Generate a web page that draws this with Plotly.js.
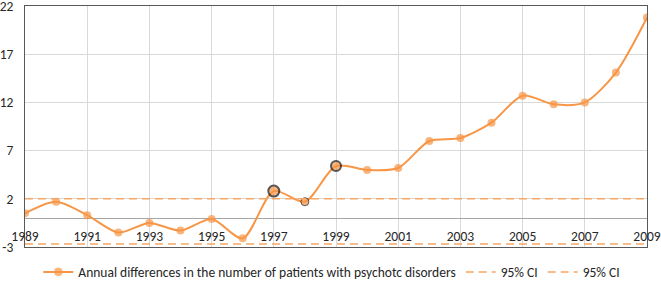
<!DOCTYPE html>
<html>
<head>
<meta charset="utf-8">
<script src="https://cdn.plot.ly/plotly-3.0.1.min.js"></script>
<style>
  html, body { margin: 0; padding: 0; background: #ffffff; }
  #chart { width: 661px; height: 282px; }
</style>
</head>
<body>
<div id="chart"></div>
<script>
// ---- data ----
const years = [1989, 1990, 1991, 1992, 1993, 1994, 1995, 1996, 1997, 1998, 1999,
               2000, 2001, 2002, 2003, 2004, 2005, 2006, 2007, 2008, 2009];
const annualDiff = [0.5, 1.7, 0.3, -1.5, -0.5, -1.3, -0.1, -2.1, 2.8, 1.7, 5.4,
                    5.0, 5.2, 8.0, 8.3, 9.9, 12.7, 11.8, 12.0, 15.1, 20.8];
const ciUpper = 2.0;
const ciLower = -2.7;
const xTickLabels = ['1989', '1991', '1993', '1995', '1997', '1999', '2001', '2003', '2005', '2007', '2009'];
const yTickLabels = ['-3', '2', '7', '12', '17', '22'];
const seriesName = 'Annual differences in the number of patients with psychotc disorders';
const ciName = '95% CI';
const highlightYears = [1997, 1998, 1999];

// ---- styles ----
const orange = '#F79646';
const ciColor = '#F6A765';
const fontFam = 'Carlito, Calibri, Lato, "Open Sans", sans-serif';
const txtColor = '#262626';

const sizes = years.map(y => y === 1997 ? 11 : (y === 1999 ? 10 : 8));
const lineW = years.map(y => y === 1997 ? 2 : (y === 1999 ? 2 : (y === 1998 ? 1 : 0)));
const lineC = years.map(y => highlightYears.includes(y) ? '#111111' : orange);

const xFirst = years[0], xLast = years[years.length - 1];

const traces = [
  {
    x: years, y: annualDiff, type: 'scatter', mode: 'lines+markers',
    name: seriesName,
    line: { color: orange, width: 2, shape: 'spline', smoothing: 0.8 },
    marker: { color: orange, size: sizes, line: { color: lineC, width: lineW } },
    xaxis: 'x', yaxis: 'y'
  },
  {
    x: [xFirst, xLast], y: [ciUpper, ciUpper], type: 'scatter', mode: 'lines',
    name: ciName, line: { color: ciColor, width: 1.5, dash: '8px,5px' },
    xaxis: 'x2', yaxis: 'y'
  },
  {
    x: [xFirst, xLast], y: [ciLower, ciLower], type: 'scatter', mode: 'lines',
    name: ciName, line: { color: ciColor, width: 1.5, dash: '8px,5px' },
    xaxis: 'x2', yaxis: 'y'
  }
];

const yMin = Number(yTickLabels[0]), yMax = Number(yTickLabels[yTickLabels.length - 1]);
const zeroPos = (0 - yMin) / (yMax - yMin);

const layout = {
  width: 661, height: 282,
  margin: { l: 25, r: 14, t: 6, b: 35, pad: 0, autoexpand: false },
  paper_bgcolor: '#ffffff', plot_bgcolor: '#ffffff',
  font: { family: fontFam, size: 13.5, color: txtColor },
  showlegend: true,
  legend: {
    orientation: 'h', xref: 'container', yref: 'container',
    x: 0.058, xanchor: 'left', y: 0.035, yanchor: 'middle',
    font: { family: fontFam, size: 13.5, color: txtColor },
    itemwidth: 30, tracegroupgap: 0, bgcolor: 'rgba(0,0,0,0)'
  },
  xaxis: {
    range: [xFirst, xLast], anchor: 'y',
    tickvals: xTickLabels.map(Number), showticklabels: false, ticks: '',
    showgrid: true, gridcolor: '#d9d9d9', gridwidth: 1,
    showline: true, mirror: true, linecolor: '#595959', linewidth: 1,
    zeroline: false, fixedrange: true
  },
  xaxis2: {
    range: [xFirst, xLast], overlaying: 'x', anchor: 'free', position: zeroPos,
    tickvals: xTickLabels.map(Number), ticktext: xTickLabels,
    ticks: 'outside', ticklen: 6, tickcolor: 'rgba(0,0,0,0)',
    showgrid: false, showline: false, zeroline: false, ticklabeloverflow: 'allow',
    tickfont: { family: fontFam, size: 13.5, color: txtColor }, fixedrange: true
  },
  yaxis: {
    range: [yMin, yMax], tickvals: yTickLabels.map(Number), ticktext: yTickLabels,
    showgrid: true, gridcolor: '#d9d9d9', gridwidth: 1,
    showline: true, mirror: true, linecolor: '#595959', linewidth: 1,
    zeroline: true, zerolinecolor: '#a6a6a6', zerolinewidth: 1,
    ticks: 'outside', ticklen: 8, tickcolor: 'rgba(0,0,0,0)', ticklabeloverflow: 'allow',
    tickfont: { family: fontFam, size: 13.5, color: txtColor }, fixedrange: true
  }
};

Plotly.newPlot('chart', traces, layout, { displayModeBar: false, staticPlot: true });
</script>
</body>
</html>
